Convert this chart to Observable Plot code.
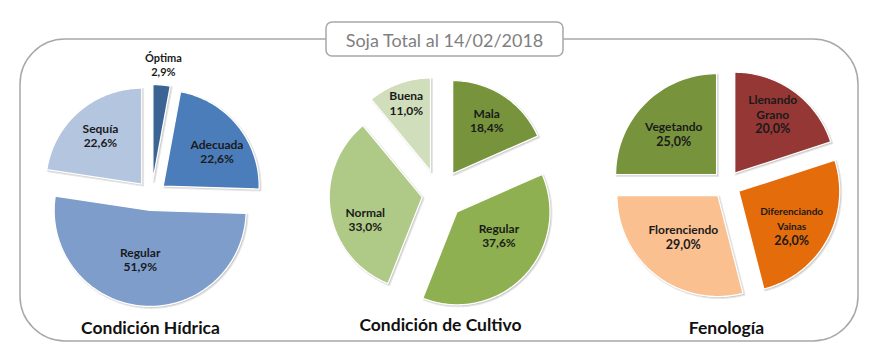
<!DOCTYPE html>
<html><head><meta charset="utf-8">
<script src="https://cdn.jsdelivr.net/npm/d3@7"></script>
<script src="https://cdn.jsdelivr.net/npm/@observablehq/plot@0.6"></script>
<style>body{margin:0;background:#fff;} svg{display:block;}</style>
</head><body><div id="chart"></div>
<script>
// ---- data ----
const chartTitle = "Soja Total al 14/02/2018";
const pieTitles = ["Condición Hídrica", "Condición de Cultivo", "Fenología"];
const hidricaCategories = ["Óptima", "Adecuada", "Regular", "Sequía"];
const hidricaValues = [2.9, 22.6, 51.9, 22.6];
const cultivoCategories = ["Mala", "Regular", "Normal", "Buena"];
const cultivoValues = [18.4, 37.6, 33.0, 11.0];
const fenologiaCategories = ["Llenando Grano", "Diferenciando Vainas", "Florenciendo", "Vegetando"];
const fenologiaValues = [20.0, 26.0, 29.0, 25.0];

// ---- styles / layout ----
const hidricaColors = ["#3B6394", "#4A7DBA", "#7E9DCB", "#B4C5E0"];
const cultivoColors = ["#77933C", "#8FB050", "#AFCA86", "#D1DEBB"];
const fenologiaColors = ["#953735", "#E46C0A", "#FAC090", "#77933C"];

const W = 885, H = 360;
const pies = [
  {cats: hidricaCategories, vals: hidricaValues, colors: hidricaColors,
   cx: 151, cy: 195, r: 96, explode: [15, 15, 15, 15],
   labelR: [1.2, 0.66, 0.53, 0.66], labelTurn: [0, 7, 6, 0],
   nameSize: [11, 12, 12, 12], valSize: [11, 12, 12, 12], lh: 14,
   title: pieTitles[0], titleX: 150, titleY: 328},
  {cats: cultivoCategories, vals: cultivoValues, colors: cultivoColors,
   cx: 438.5, cy: 194, r: 93, explode: [25, 25, 17, 25],
   labelR: [0.67, 0.52, 0.66, 0.77], labelTurn: [0, -14, -13, 0],
   nameSize: [12, 12, 12, 12], valSize: [12, 12, 12, 12], lh: 14.5,
   title: pieTitles[1], titleX: 440, titleY: 325},
  {cats: fenologiaCategories, vals: fenologiaValues, colors: fenologiaColors,
   cx: 726, cy: 184, r: 101, explode: [14, 14, 14, 14],
   labelR: [0.69, 0.63, 0.54, 0.58], labelTurn: [-3, 5, 1.6, -2],
   nameSize: [12, 10, 12, 12], valSize: [12.5, 12.5, 12.5, 12.5], lh: 14.5,
   title: pieTitles[2], titleX: 726, titleY: 328}
];

const fmt = v => d3.format(".1f")(v).replace(".", ",") + "%";
const rad = Math.PI / 180;

const slicePts = [];
const labelRows = [];
const titleRows = [];
pies.forEach((p, pi) => {
  const total = d3.sum(p.vals);
  let acc = 0;
  p.vals.forEach((v, i) => {
    const a0 = acc / total * 360, a1 = (acc + v) / total * 360;
    acc += v;
    const mid = (a0 + a1) / 2;
    const ax = p.cx + p.explode[i] * Math.sin(mid * rad);
    const ay = p.cy - p.explode[i] * Math.cos(mid * rad);
    const key = pi + "-" + i;
    slicePts.push({key, x: ax, y: ay, color: p.colors[i]});
    const n = Math.max(2, Math.ceil(a1 - a0));
    for (let k = 0; k <= n; k++) {
      const t = (a0 + (a1 - a0) * k / n) * rad;
      slicePts.push({key, x: ax + p.r * Math.sin(t), y: ay - p.r * Math.cos(t), color: p.colors[i]});
    }
    const la = (mid + p.labelTurn[i]) * rad;
    const lr = p.labelR[i] * p.r;
    const lx = ax + lr * Math.sin(la), ly = ay - lr * Math.cos(la);
    const lines = p.cats[i].split(" ");
    const T = lines.length + 1;
    const lh = p.lh;
    lines.forEach((s, j) => labelRows.push({x: lx, y: ly + (j - (T - 1) / 2) * lh, text: s, size: p.nameSize[i]}));
    labelRows.push({x: lx, y: ly + (lines.length - (T - 1) / 2) * lh, text: fmt(v), size: p.valSize[i]});
  });
  titleRows.push({x: p.titleX, y: p.titleY, text: p.title});
});

const plot = Plot.plot({
  width: W, height: H, margin: 0,
  x: {domain: [0, W], range: [0, W], axis: null},
  y: {domain: [0, H], range: [0, H], axis: null},
  color: {type: "identity"},
  style: {fontFamily: "Lato, 'Open Sans', sans-serif", background: "white"},
  marks: [
    // soft shadow under each slice
    Plot.line(slicePts, {x: "x", y: "y", z: "key", fill: "#000", fillOpacity: 0.12, stroke: "#000", strokeOpacity: 0.1, strokeWidth: 2.5, dx: 1.2, dy: 1.2, curve: "linear-closed"}),
    Plot.line(slicePts, {x: "x", y: "y", z: "key", fill: "color", stroke: "#ffffff", strokeWidth: 1.3, curve: "linear-closed"}),
    Plot.text(labelRows, {x: "x", y: "y", text: "text", fontSize: d => d.size, fontWeight: "bold", fill: "#1a1a1a", lineAnchor: "middle"}),
    Plot.text(titleRows, {x: "x", y: "y", text: "text", fontSize: 17.5, fontWeight: "bold", fill: "#111", lineAnchor: "middle"})
  ]
});

const svgSel = d3.select(plot);
const decoBack = svgSel.insert("g", ":first-child");
decoBack.append("rect").attr("x", 20).attr("y", 39).attr("width", 838).attr("height", 302)
  .attr("rx", 45).attr("ry", 45).attr("fill", "none").attr("stroke", "#a8a8a8").attr("stroke-width", 1.5);
const decoFront = svgSel.append("g");
decoFront.append("rect").attr("x", 326).attr("y", 22).attr("width", 237).attr("height", 34)
  .attr("rx", 6).attr("ry", 6).attr("fill", "white").attr("stroke", "#a8a8a8").attr("stroke-width", 1.5);
decoFront.append("text").attr("x", 444.5).attr("y", 40).attr("text-anchor", "middle").attr("dominant-baseline", "central")
  .attr("font-family", "Lato, 'Open Sans', sans-serif").attr("font-size", 18).attr("fill", "#7f7f7f").text(chartTitle);

document.getElementById("chart").appendChild(plot);
</script>
</body></html>
